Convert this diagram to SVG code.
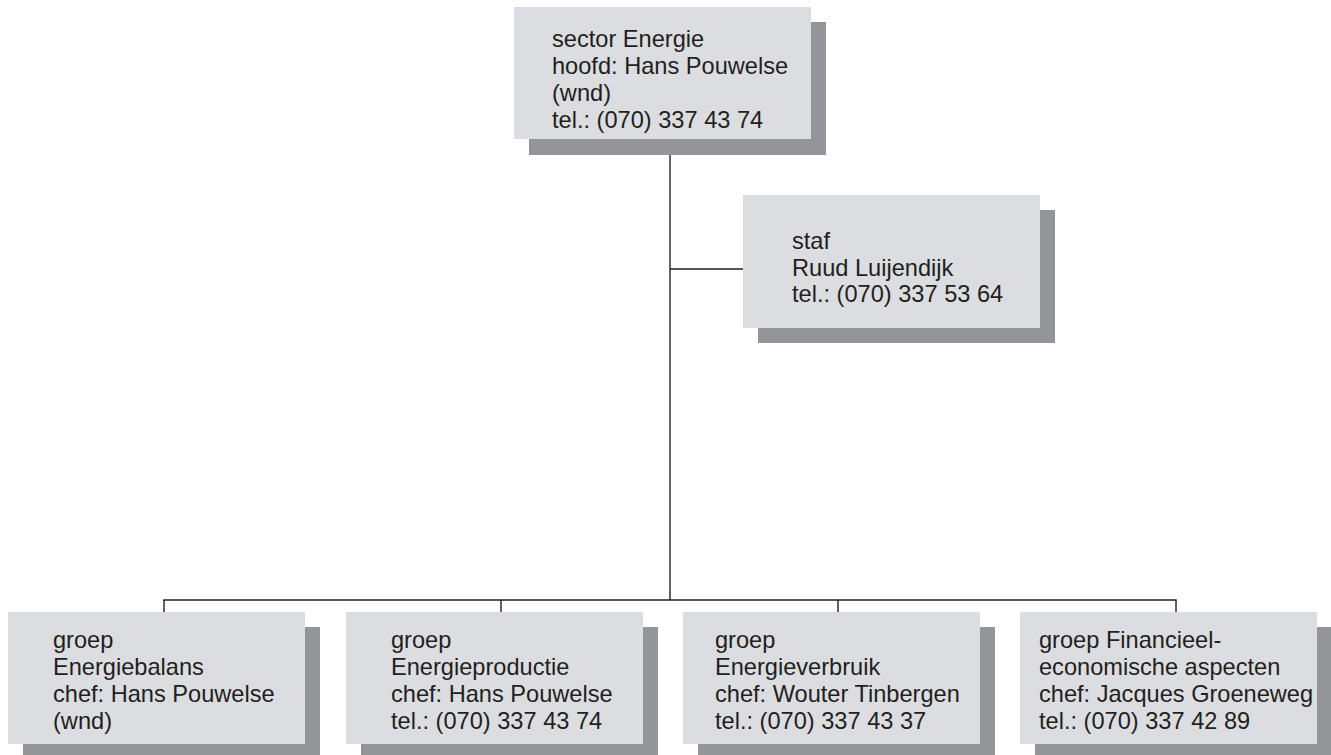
<svg xmlns="http://www.w3.org/2000/svg" width="1331" height="755" viewBox="0 0 1331 755">
<style>
.box{fill:#dcdde0}
.sh{fill:#939598}
.t{font-family:"Liberation Sans",Arial,sans-serif;font-size:23.6px;fill:#231f20}
.ln{stroke:#231f20;stroke-width:1.4;fill:none}
</style>
<rect width="1331" height="755" fill="#ffffff"/>
<g id="connectors">
<line class="ln" x1="670" y1="139" x2="670" y2="600"/>
<line class="ln" x1="670" y1="269" x2="743" y2="269"/>
<line class="ln" x1="163.3" y1="600" x2="1176.7" y2="600"/>
<line class="ln" x1="164" y1="600" x2="164" y2="612"/>
<line class="ln" x1="501" y1="600" x2="501" y2="612"/>
<line class="ln" x1="838" y1="600" x2="838" y2="612"/>
<line class="ln" x1="1176" y1="600" x2="1176" y2="612"/>
</g>
<g id="sector">
<rect class="sh" x="529" y="22" width="297" height="133"/>
<rect class="box" x="514" y="7" width="297" height="132"/>
<text class="t" x="552" y="47">sector Energie</text>
<text class="t" x="552" y="74">hoofd: Hans Pouwelse</text>
<text class="t" x="552" y="101">(wnd)</text>
<text class="t" x="552" y="128">tel.: (070) 337 43 74</text>
</g>
<g id="staf">
<rect class="sh" x="758" y="210" width="297" height="133"/>
<rect class="box" x="743" y="195" width="297" height="133"/>
<text class="t" x="792" y="249">staf</text>
<text class="t" x="792" y="275.5">Ruud Luijendijk</text>
<text class="t" x="792" y="302">tel.: (070) 337 53 64</text>
</g>
<g id="energiebalans">
<rect class="sh" x="23" y="627" width="297" height="140"/>
<rect class="box" x="8" y="612" width="297" height="132"/>
<text class="t" x="53" y="648">groep</text>
<text class="t" x="53" y="675">Energiebalans</text>
<text class="t" x="53" y="702">chef: Hans Pouwelse</text>
<text class="t" x="53" y="729">(wnd)</text>
</g>
<g id="energieproductie">
<rect class="sh" x="361" y="627" width="297" height="140"/>
<rect class="box" x="346" y="612" width="297" height="132"/>
<text class="t" x="391" y="648">groep</text>
<text class="t" x="391" y="675">Energieproductie</text>
<text class="t" x="391" y="702">chef: Hans Pouwelse</text>
<text class="t" x="391" y="729">tel.: (070) 337 43 74</text>
</g>
<g id="energieverbruik">
<rect class="sh" x="698" y="627" width="297" height="140"/>
<rect class="box" x="683" y="612" width="297" height="132"/>
<text class="t" x="715" y="648">groep</text>
<text class="t" x="715" y="675">Energieverbruik</text>
<text class="t" x="715" y="702">chef: Wouter Tinbergen</text>
<text class="t" x="715" y="729">tel.: (070) 337 43 37</text>
</g>
<g id="financieel">
<rect class="sh" x="1035" y="627" width="297" height="140"/>
<rect class="box" x="1020" y="612" width="297" height="132"/>
<text class="t" x="1039" y="648">groep Financieel-</text>
<text class="t" x="1039" y="675">economische aspecten</text>
<text class="t" x="1039" y="702">chef: Jacques Groeneweg</text>
<text class="t" x="1039" y="729">tel.: (070) 337 42 89</text>
</g>
</svg>
